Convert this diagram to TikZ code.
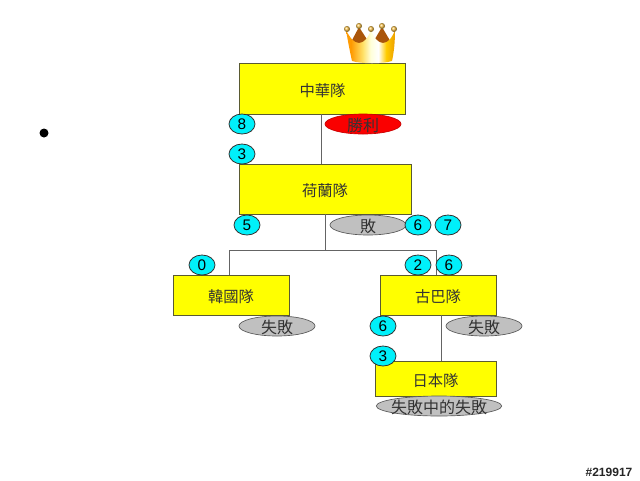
\documentclass[tikz,border=0pt]{standalone}
\usepackage{fontspec}
\setmainfont{Liberation Sans}
\newfontfamily\cjk{Noto Sans CJK TC}
\usetikzlibrary{shapes.geometric}
\definecolor{boxyellow}{RGB}{255,255,0}
\definecolor{boxedge}{RGB}{90,90,50}
\definecolor{linkgrey}{RGB}{100,100,100}
\definecolor{cyanfill}{RGB}{0,240,250}
\definecolor{lossgrey}{RGB}{192,192,192}
\definecolor{winred}{RGB}{250,0,0}
\definecolor{crownback}{RGB}{170,85,10}
\definecolor{crownD}{RGB}{245,190,70}
\pgfdeclarehorizontalshading{crownbody}{100bp}{
  color(0bp)=(white!20!orange!70!yellow);
  color(30bp)=(orange!80!yellow);
  color(42bp)=(orange!40!yellow!60!white);
  color(50bp)=(yellow!15!white);
  color(58bp)=(white);
  color(66bp)=(yellow!60!orange);
  color(85bp)=(orange!85!black);
  color(100bp)=(orange!75!black)}
\tikzset{
  x=0.75pt,y=-0.75pt,
  teambox/.style={draw=boxedge,line width=0.6pt,fill=boxyellow,inner sep=0pt,text height=12.5pt,text depth=1pt,font=\cjk\fontsize{11.5}{12}\selectfont,text=black!80},
  score/.style={ellipse,draw=black!80,line width=0.6pt,fill=cyanfill,minimum width=19.5pt,minimum height=15pt,inner sep=0pt,font=\fontsize{11.5}{12}\selectfont},
  result/.style={ellipse,draw=black!65,line width=0.5pt,fill=lossgrey,minimum height=15pt,inner sep=0pt,text height=10.5pt,text depth=0pt,font=\cjk\fontsize{12}{12}\selectfont,text=black!80},
  link/.style={draw=linkgrey,line width=0.6pt},
  ball/.style={ball color=crownD,draw=none}
}
\begin{document}
\begin{tikzpicture}
\useasboundingbox (0,0) rectangle (640,480);
\fill[white] (0,0) rectangle (640,480);

% links
\coordinate (bus) at (325,250);
\coordinate (kx) at (229,250);
\coordinate (cx) at (436,250);

% teams
\node[teambox,minimum width=124.5pt,minimum height=38.25pt] (tw) at (322.5,88.5) {中華隊};
\node[teambox,minimum width=129pt,minimum height=37.5pt] (nl) at (325,189) {荷蘭隊};
\node[teambox,minimum width=87pt,minimum height=30pt] (kr) at (231,295) {韓國隊};
\node[teambox,minimum width=87pt,minimum height=30pt] (cu) at (438,295) {古巴隊};
\node[teambox,minimum width=90.75pt,minimum height=26.25pt] (jp) at (435.5,378.5) {日本隊};

\coordinate (twlink) at (321,114);
\coordinate (nllink) at (325,214);
\coordinate (culink) at (441,315);
\draw[link] (twlink) -- (twlink |- nl.north);
\draw[link] (nllink) -- (bus);
\draw[link] (kx) -- (cx);
\draw[link] (kx) -- (kx |- kr.north);
\draw[link] (cx) -- (cx |- cu.north);
\draw[link] (culink) -- (culink |- jp.north);

% results
\node[result,fill=winred,draw=winred!80!black,minimum width=57pt] (win) at (363,124) {\makebox[0pt]{勝利}};
\node[result,minimum width=57pt] (lose1) at (368,225) {\makebox[0pt]{敗}};
\node[result,minimum width=57pt] (lose2) at (277,326) {\makebox[0pt]{失敗}};
\node[result,minimum width=57pt] (lose3) at (484,326) {\makebox[0pt]{失敗}};
\node[result,minimum width=94pt] (lose4) at (439,406) {\makebox[0pt]{失敗中的失敗}};

% scores
\node[score] (s1) at (242,124) {8};
\node[score] (s2) at (242,154) {3};
\node[score] (s3) at (247,225) {5};
\node[score] (s4) at (418,225) {6};
\node[score] (s5) at (448,225) {7};
\node[score] (s6) at (202,265) {0};
\node[score] (s7) at (418,265) {2};
\node[score] (s8) at (449,265) {6};
\node[score] (s9) at (383,326) {6};
\node[score] (s10) at (383,356) {3};

% bullet
\fill[black] (44,133) circle[radius=4.5];

% crown: back points
\fill[crownback] (350,44) -- (359,27) -- (370,44) -- cycle;
\fill[crownback] (372,44) -- (382,27) -- (392,44) -- cycle;
% crown: front body
\path[shading=crownbody]
  (346,30) .. controls (348,42) and (350,52) .. (352,61)
  .. controls (362,64) and (382,64) .. (392,61)
  .. controls (394,52) and (395,42) .. (395,30)
  .. controls (392,38) and (388,43) .. (383,43)
  .. controls (378,43) and (374,38) .. (371,30)
  .. controls (368,38) and (364,43) .. (359,43)
  .. controls (354,43) and (350,38) .. (346,30) -- cycle;
\path[ball] (347,29) circle[radius=3];
\path[ball] (359,26) circle[radius=3];
\path[ball] (371,29) circle[radius=3];
\path[ball] (382,26) circle[radius=3];
\path[ball] (394,29) circle[radius=3];

% watermark
\node[font=\bfseries\fontsize{9}{10}\selectfont,text=black!85,inner sep=0pt] (mark) at (609,472) {\#219917};
\end{tikzpicture}
\end{document}
